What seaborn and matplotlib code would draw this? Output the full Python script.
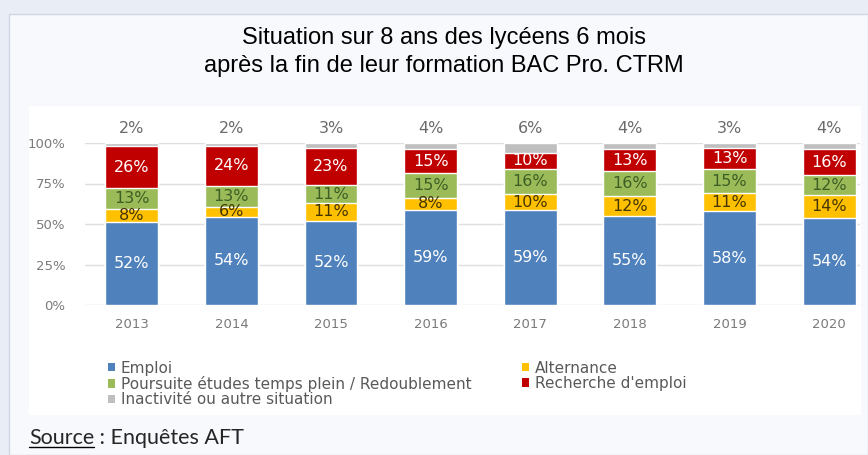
import numpy as np
import pandas as pd
import matplotlib
matplotlib.use("Agg")
import matplotlib.pyplot as plt
from matplotlib.patches import Rectangle, Patch
import seaborn as sns

# ---------------------------------------------------------------
# Data
# ---------------------------------------------------------------
years = ["2013", "2014", "2015", "2016", "2017", "2018", "2019", "2020"]
emploi = [52, 54, 52, 59, 59, 55, 58, 54]
alternance = [8, 6, 11, 8, 10, 12, 11, 14]
poursuite = [13, 13, 11, 15, 16, 16, 15, 12]
recherche = [26, 24, 23, 15, 10, 13, 13, 16]
inactivite = [2, 2, 3, 4, 6, 4, 3, 4]

series_names = ["Emploi", "Alternance", "Poursuite études temps plein / Redoublement",
                "Recherche d'emploi", "Inactivité ou autre situation"]
series_vals = [emploi, alternance, poursuite, recherche, inactivite]
colors = ["#4F81BD", "#FFC000", "#9BBB59", "#C00000", "#BFBFBF"]
label_colors = ["white", "#453600", "#3d5f25", "white", "#6b6b6b"]

sns.set_style("white")

W, H = 868, 455
fig = plt.figure(figsize=(W / 100, H / 100), dpi=100, facecolor="#e9eef6")

# background panels
fig.patches.append(Rectangle((9 / W, 0), 1 - 9 / W, 1 - 14 / H, transform=fig.transFigure,
                             facecolor="#f7f9fd", edgecolor="#cfd6e2", linewidth=1, zorder=-3))
fig.patches.append(Rectangle((29 / W, 1 - 415 / H), (861 - 29) / W, (415 - 106) / H,
                             transform=fig.transFigure, facecolor="white", edgecolor="none", zorder=-2))

ax = fig.add_axes([85 / W, 1 - 305 / H, 775 / W, 162 / H])
ax.set_facecolor("none")

# 100% stacked: normalise each year to its total
df = pd.DataFrame(dict(zip(series_names, series_vals)), index=years)
shares = df.div(df.sum(axis=1), axis=0) * 100
cum = shares.cumsum(axis=1)

# draw cumulative layers from the top down so each one hides the part below
for name, col in reversed(list(zip(series_names, colors))):
    sns.barplot(x=years, y=cum[name].values, color=col, saturation=1, width=0.53,
                ax=ax, zorder=2)

# value labels
lbl_font = dict(family="DejaVu Sans", fontsize=11.5)
for i, yr in enumerate(years):
    bottom = 0
    for k, name in enumerate(series_names):
        h = shares.loc[yr, name]
        txt = f"{df.loc[yr, name]}%"
        if k == len(series_names) - 1:
            ax.text(i, 100 + 9, txt, ha="center", va="center", color=label_colors[k], **lbl_font)
        else:
            ax.text(i, bottom + h / 2, txt, ha="center", va="center", color=label_colors[k], **lbl_font)
        bottom += h

ax.set_xlim(-0.47, 7.31)
ax.set_ylim(0, 100)
ax.set_yticks([0, 25, 50, 75, 100])
ax.set_yticklabels(["0%", "25%", "50%", "75%", "100%"])
ax.yaxis.grid(True, color="#dedede", linewidth=1)
ax.set_axisbelow(True)
ax.tick_params(axis="both", length=0, labelcolor="#7a7a7a", labelsize=9.5)
ax.tick_params(axis="y", pad=14)
ax.tick_params(axis="x", pad=9)
ax.set_xlabel("")
ax.set_ylabel("")
for s in ax.spines.values():
    s.set_visible(False)

# legend (column-major: left column first)
order = [0, 2, 4, 1, 3]
handles = [Patch(facecolor=colors[k], edgecolor="none") for k in order]
labels = [series_names[k] for k in order]
fig.legend(handles, labels, ncol=2, loc="upper left", bbox_to_anchor=(100 / W, 1 - 353 / H),
           frameon=False, labelcolor="#595959", handlelength=0.45, handleheight=0.45,
           handletextpad=0.4, labelspacing=0.02, columnspacing=3.3, borderpad=0,
           prop={"family": "DejaVu Sans", "size": 11})

# title
fig.text(444 / W, 1 - 52 / H, "Situation sur 8 ans des lycéens 6 mois\naprès la fin de leur formation BAC Pro. CTRM",
         ha="center", va="center", fontsize=17, family="Liberation Sans", linespacing=1.33, color="black")

# source line with underlined "Source"
src1 = fig.text(29 / W, 1 - 438 / H, "Source", ha="left", va="center", fontsize=15.5, family="Lato")
fig.canvas.draw()
bb = src1.get_window_extent()
fig.text(bb.x1 / W, 1 - 438 / H, " : Enquêtes AFT", ha="left", va="center", fontsize=15.5, family="Lato")
fig.add_artist(plt.Line2D([bb.x0 / W, bb.x1 / W], [(bb.y0 + 1) / H, (bb.y0 + 1) / H],
                          transform=fig.transFigure, color="black", linewidth=1))

fig.savefig("out.png", dpi=100, facecolor=fig.get_facecolor())
